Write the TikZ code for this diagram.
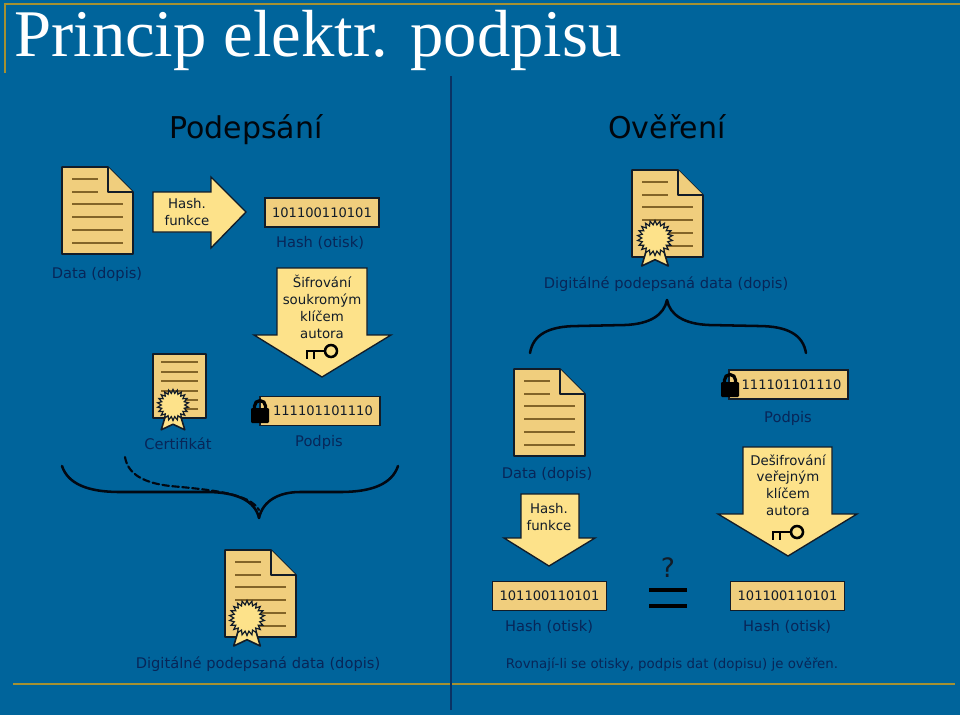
\documentclass[tikz,border=0pt]{standalone}
\usepackage{fontspec}
\setmainfont{DejaVu Sans}
\newfontfamily\titlefont{Liberation Serif}
\usetikzlibrary{shapes.geometric}
\definecolor{slidebg}{RGB}{0,100,155}
\definecolor{goldline}{RGB}{165,145,50}
\definecolor{darkline}{RGB}{10,50,100}
\definecolor{navytext}{RGB}{8,38,88}
\definecolor{docfill}{RGB}{240,206,125}
\definecolor{arrowfill}{RGB}{253,226,138}
\definecolor{inkline}{RGB}{18,28,40}
\definecolor{rowline}{RGB}{130,100,40}
\tikzset{
  lbl/.style={anchor=base,inner sep=0.75pt,text=navytext,font=\fontsize{11}{13}\selectfont},
  bigtitle/.style={anchor=base,inner sep=0.75pt,text=black!85!navytext,font=\fontsize{22.5}{26}\selectfont},
  arrowtext/.style={inner sep=0.75pt,align=center,text=inkline,font=\fontsize{10}{12.6}\selectfont},
  bits/.style={draw=inkline,line width=1.1,fill=docfill,text=inkline,inner sep=0pt,minimum width=85.5pt,minimum height=22pt,font=\fontsize{9.8}{12}\selectfont},
  docshape/.style={draw=inkline,line width=1.2,fill=docfill,line join=round},
  arrowshape/.style={draw=inkline,line width=1,fill=arrowfill,line join=miter},
  rowrule/.style={draw=rowline,line width=1},
  brace/.style={draw=black!80!navytext,line width=1.9,line cap=round},
  goldrule/.style={draw=goldline,line width=1.8}
}
% document with folded corner, top left at #1,#2
\newcommand{\docicon}[2]{
\begin{scope}[shift={(#1,#2)}]
\draw [docshape] (0,0) -- (46,0) -- (71,25) -- (71,87) -- (0,87) -- cycle ;
\draw [docshape] (46,0) -- (46,25) -- (71,25) ;
\foreach \rowy in {12,25} \draw [rowrule] (10,\rowy) -- (36,\rowy) ;
\foreach \rowy in {37,50,63,76} \draw [rowrule] (10,\rowy) -- (61,\rowy) ;
\end{scope}
}
% seal with ribbon, centre at #1,#2, #3 name, #4 size
\newcommand{\sealicon}[4]{
\draw [docshape,fill=arrowfill] (#1-0.2*#4,#2+0.2*#4) -- (#1-0.38*#4,#2+0.8*#4) -- (#1,#2+0.62*#4) -- (#1+0.38*#4,#2+0.8*#4) -- (#1+0.2*#4,#2+0.2*#4) -- cycle ;
\node (#3) [star,star points=22,star point ratio=1.32,draw=inkline,line width=0.9,fill=arrowfill,inner sep=0pt,minimum size=#4*0.75pt] at (#1,#2) {};
}
% key, ring at #1,#2
\newcommand{\keyicon}[2]{
\draw [black,line width=1.9] (#1,#2) circle [radius=6] ;
\draw [black,line width=1.9] (#1-6,#2) -- (#1-24,#2) -- (#1-24,#2+8) ;
\draw [black,line width=1.9] (#1-17,#2) -- (#1-17,#2+8) ;
}
% padlock, body top left at #1,#2
\newcommand{\lockicon}[2]{
\draw [black,line width=2.4] (#1+3.5,#2+1) -- (#1+3.5,#2-2) arc [start angle=180,end angle=360,radius=5.5] -- (#1+14.5,#2+1) ;
\fill [black,rounded corners=0.8] (#1,#2) rectangle (#1+18,#2+15) ;
}
\begin{document}
\begin{tikzpicture}[x=0.75pt,y=0.75pt,yscale=-1]
\useasboundingbox (0,0) rectangle (960,715);
\fill [slidebg] (0,0) rectangle (960,715);

%Frame lines
\draw [goldrule] (960,4) -- (5,4) -- (5,73) ;
\draw [goldrule] (13,684) -- (955,684) ;
\draw [darkline,line width=1] (451,76) -- (451,710) ;

% Title
\draw (14,56) node [anchor=base west,inner sep=0pt,text=white,font=\titlefont\fontsize{50}{54}\selectfont] (title) {Princip elektr. podpisu};
\draw (246,138) node [bigtitle] (signhead) {Podepsání};
\draw (667,138) node [bigtitle] (verifyhead) {Ověření};

%Left side
\docicon{62}{167}
\draw (97,278) node [lbl] (datasign) {Data (dopis)};
\draw [arrowshape] (153,192) -- (211,192) -- (211,177) -- (246,212) -- (211,248) -- (211,232) -- (153,232) -- cycle ;
\draw (187,212) node [arrowtext] (hashsign) {Hash.\\funkce};
\draw (322,212.5) node [bits] (bitssign) {101100110101};
\draw (320,247) node [lbl] (hashlabel) {Hash (otisk)};
\draw [arrowshape] (277,268) -- (367,268) -- (367,335) -- (391,335) -- (322,377) -- (254,335) -- (277,335) -- cycle ;
\draw (322,307) node [arrowtext] (encrypt) {Šifrování\\soukromým\\klíčem\\autora};
\keyicon{331}{351}

% Certificate
\draw [docshape] (153,354) rectangle (206,418) ;
\foreach \rowy in {362,372,381,391,400,409} \draw [rowrule] (161,\rowy) -- (198,\rowy) ;
\sealicon{173}{405}{certseal}{31}
\draw (178,449) node [lbl] (certlabel) {Certifikát};

% Signature
\draw (320,411) node [bits,minimum width=90pt] (sigsign) {\hspace{4.5pt}111101101110};
\lockicon{251}{408}
\draw (319,446) node [lbl] (siglabel) {Podpis};

% Brace below
\draw [brace] (62,466) .. controls (68,484) and (88,492) .. (120,492) -- (207,492) .. controls (235,492) and (255,500) .. (259,518) ;
\draw [brace] (398,466) .. controls (392,484) and (372,492) .. (340,492) -- (300,492) .. controls (280,492) and (263,500) .. (259,518) ;
\draw [brace,line width=1.6,dashed,dash pattern=on 5pt off 2.5pt] (125,457) .. controls (128,475) and (145,483) .. (170,486) .. controls (215,490) and (250,494) .. (259,510) ;

\docicon{225}{550}
\sealicon{247}{618}{signedseal}{35}
\draw (258,668) node [lbl] (signedlabel) {Digitálné podepsaná data (dopis)};

%Right side
\docicon{632}{170}
\sealicon{655}{238}{verifyseal}{35}
\draw (666,288) node [lbl] (signedright) {Digitálné podepsaná data (dopis)};
\draw [brace] (530,353) .. controls (533,335) and (548,326) .. (578,326) -- (625,325) .. controls (650,324) and (664,315) .. (667,300) ;
\draw [brace] (806,353) .. controls (803,335) and (788,326) .. (758,326) -- (709,325) .. controls (684,324) and (670,315) .. (667,300) ;

\docicon{514}{369}
\draw (547,478) node [lbl] (dataright) {Data (dopis)};
\draw [arrowshape] (521,494) -- (579,494) -- (579,538) -- (595,538) -- (549,566) -- (504,538) -- (521,538) -- cycle ;
\draw (549,517) node [arrowtext] (hashright) {Hash.\\funkce};
\draw (549.5,596) node [bits] (bitsleft) {101100110101};
\draw (549,631) node [lbl] (hashleft) {Hash (otisk)};

\draw (788.5,384.5) node [bits,minimum width=89pt] (sigright) {\hspace{4.5pt}111101101110};
\lockicon{721}{382}
\draw (788,422) node [lbl] (sigrightlabel) {Podpis};
\draw [arrowshape] (743,447) -- (832,447) -- (832,514) -- (857,514) -- (788,556) -- (718,514) -- (743,514) -- cycle ;
\draw (788,485) node [arrowtext] (decrypt) {Dešifrování\\veřejným\\klíčem\\autora};
\keyicon{797}{532}
\draw (787.5,596) node [bits] (bitsright) {101100110101};
\draw (787,631) node [lbl] (hashrightlabel) {Hash (otisk)};

% Equals sign
\draw (668,568) node [inner sep=0pt,text=inkline,font=\fontsize{20}{24}\selectfont] (question) {?};
\draw [black,line width=3] (649,590) -- (687,590) ;
\draw [black,line width=3] (649,606) -- (687,606) ;
\draw (672,668) node [lbl,font=\fontsize{10}{12}\selectfont] (verdict) {Rovnají-li se otisky, podpis dat (dopisu) je ověřen.};
\end{tikzpicture}
\end{document}
